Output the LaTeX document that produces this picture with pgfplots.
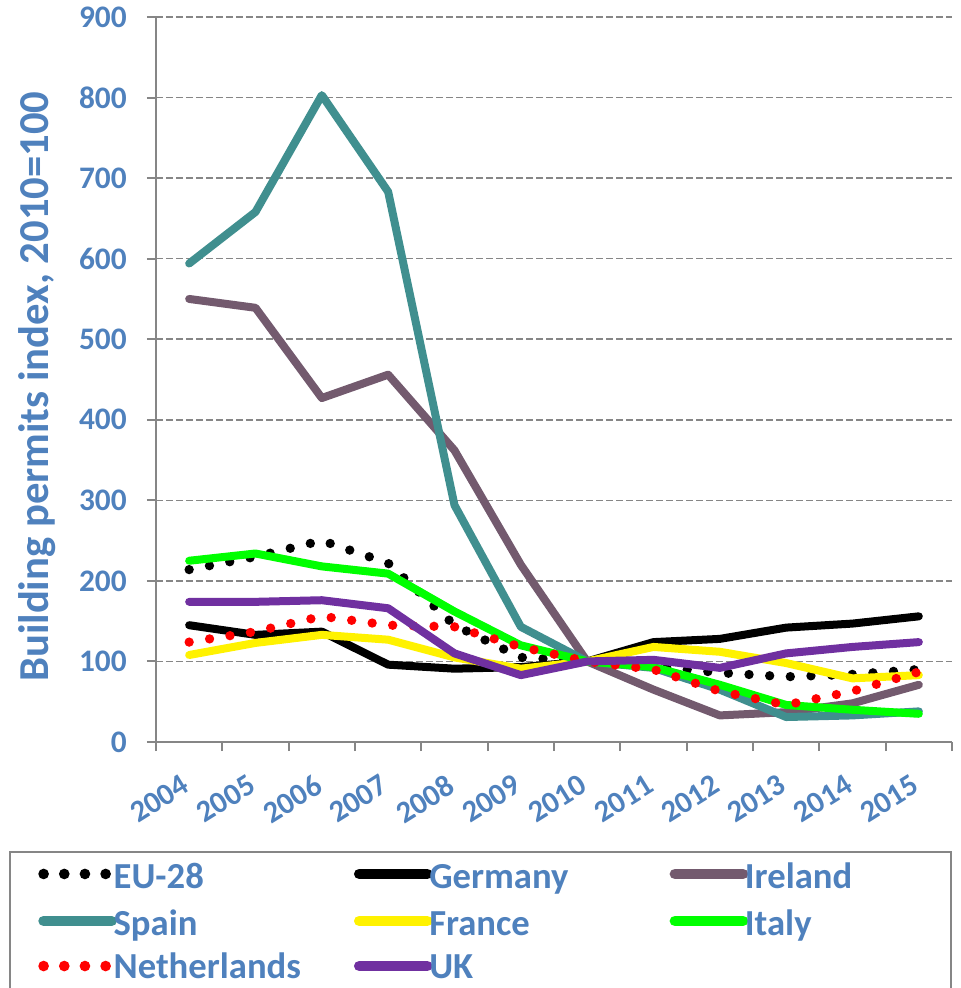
\documentclass[border=0pt]{standalone}
\usepackage{fontspec}
\setmainfont{Carlito}
\usepackage{pgfplots}
\pgfplotsset{compat=1.18}
\definecolor{txtblue}{HTML}{4F81BD}
\definecolor{axgray}{HTML}{868686}
\definecolor{irl}{HTML}{735A6E}
\definecolor{esp}{HTML}{408F8F}
\definecolor{ukp}{HTML}{7030A0}
% legend cells: fixed width, strut centred on the cap height
\newcommand\E[1]{\hspace{-2.5pt}\makebox[180.25pt][l]{\rule[-5.5pt]{0pt}{28.7pt}#1}}
\newcommand\F[1]{\hspace{-2.5pt}\makebox[135pt][l]{\rule[-5.5pt]{0pt}{28.7pt}#1}}
\newcommand\G[1]{\hspace{-2.5pt}\makebox[180.25pt][l]{\rule[-2pt]{0pt}{21.7pt}#1}}
\pgfplotsset{
    solid line/.style={line width=6pt, line join=round, line cap=round},
    dot line/.style={line width=7pt, line cap=round, dash pattern=on 0pt off 15.5pt},
    legrow/.style={at={(ax.south west)}, anchor=south west,
        scale only axis, width=597pt, height=543.75pt, hide axis,
        xmin=0, xmax=1, ymin=0, ymax=1, legend columns=3,
        legend style={at={(-0.1834,#1)}, anchor=west, draw=none, fill=none,
            inner xsep=21pt, inner ysep=0pt, column sep=0pt,
            nodes={inner sep=0pt, anchor=west},
            font=\fontsize{27.5}{31}\selectfont\bfseries, text=txtblue},
        legend image code/.code={\draw[##1, line width=8pt] (0pt,0pt) -- (51pt,0pt);}},
}
\begin{document}
\begin{tikzpicture}
\begin{axis}[
    name=ax,
    scale only axis, width=597pt, height=543.75pt,
    xmin=-0.5, xmax=11.5, ymin=0, ymax=900,
    axis lines=left, axis line style={-, axgray, line width=1.5pt},
    xtick={-0.5,0.5,...,11.5}, xticklabels={},
    extra x ticks={0,1,2,3,4,5,6,7,8,9,10,11},
    extra x tick labels={2004,2005,2006,2007,2008,2009,2010,2011,2012,2013,2014,2015},
    extra x tick style={major tick length=0pt, grid=none},
    xticklabel style={xshift=-6.5pt, yshift=-23.5pt, rotate=32, anchor=north east, inner sep=0pt,
        font=\fontsize{23}{27}\selectfont\bfseries, text=txtblue},
    ytick={0,100,...,900},
    /pgf/number format/assume math mode=true,
    yticklabel style={anchor=east, inner sep=0pt, xshift=-15pt,
        font=\fontsize{23.5}{27}\selectfont\bfseries, text=txtblue},
    tick align=outside, major tick length=6.75pt,
    tick style={axgray, line width=1.5pt},
    ymajorgrids, grid style={axgray, line width=1.2pt, dash pattern=on 5pt off 2.5pt},
    ylabel={Building permits index, 2010=100},
    ylabel style={at={(axis description cs:-0.1495,0.49)}, anchor=center,
        font=\fontsize{32}{36}\selectfont\bfseries, text=txtblue},
]
% EU-28
\addplot[black, dot line] coordinates {
 (0,214) (1,230) (2,250) (3,222) (4,145) (5,105) (6,100) (7,94) (8,86) (9,81) (10,84) (11,90)};
% Germany
\addplot[black, solid line] coordinates {
 (0,145) (1,133) (2,137) (3,96) (4,91) (5,93) (6,100) (7,124) (8,128) (9,142) (10,147) (11,156)};
% Ireland
\addplot[irl, solid line] coordinates {
 (0,550) (1,539) (2,427) (3,456) (4,362) (5,220) (6,100) (7,65) (8,33) (9,37) (10,48) (11,71)};
% Spain
\addplot[esp, solid line] coordinates {
 (0,594) (1,658) (2,803) (3,683) (4,294) (5,143) (6,100) (7,92) (8,65) (9,31) (10,33) (11,38)};
% France
\addplot[yellow, solid line] coordinates {
 (0,108) (1,123) (2,133) (3,127) (4,105) (5,91) (6,100) (7,118) (8,112) (9,98) (10,79) (11,83)};
% Italy
\addplot[green, solid line] coordinates {
 (0,225) (1,234) (2,218) (3,209) (4,162) (5,120) (6,100) (7,93) (8,71) (9,46) (10,40) (11,35)};
% Netherlands
\addplot[red, dot line] coordinates {
 (0,124) (1,137) (2,156) (3,145) (4,143) (5,118) (6,100) (7,90) (8,63) (9,46) (10,63) (11,87)};
% UK
\addplot[ukp, solid line] coordinates {
 (0,174) (1,174) (2,176) (3,166) (4,110) (5,83) (6,100) (7,102) (8,92) (9,110) (10,118) (11,124)};
\end{axis}

% legend, one row per hidden axis
\begin{axis}[legrow=-0.1820]
\addlegendimage{black, dot line}\addlegendentry{\E{EU-28}}
\addlegendimage{black, solid line}\addlegendentry{\E{Germany}}
\addlegendimage{irl, solid line}\addlegendentry{\F{Ireland}}
\end{axis}
\begin{axis}[legrow=-0.2468]
\addlegendimage{esp, solid line}\addlegendentry{\E{Spain}}
\addlegendimage{yellow, solid line}\addlegendentry{\E{France}}
\addlegendimage{green, solid line}\addlegendentry{\F{Italy}}
\end{axis}
\begin{axis}[legrow=-0.3090]
\addlegendimage{red, dot line}\addlegendentry{\G{Netherlands}}
\addlegendimage{ukp, solid line}\addlegendentry{\G{UK}}
\end{axis}
\draw[axgray, line width=1.1pt] ([shift={(-109.5pt,-82.5pt)}]ax.south west) rectangle ++(705.75pt,-110pt);

\pgfresetboundingbox
\path[use as bounding box] ([shift={(-117pt,-184.5pt)}]ax.south west) rectangle ++(720pt,741pt);
\end{tikzpicture}
\end{document}
